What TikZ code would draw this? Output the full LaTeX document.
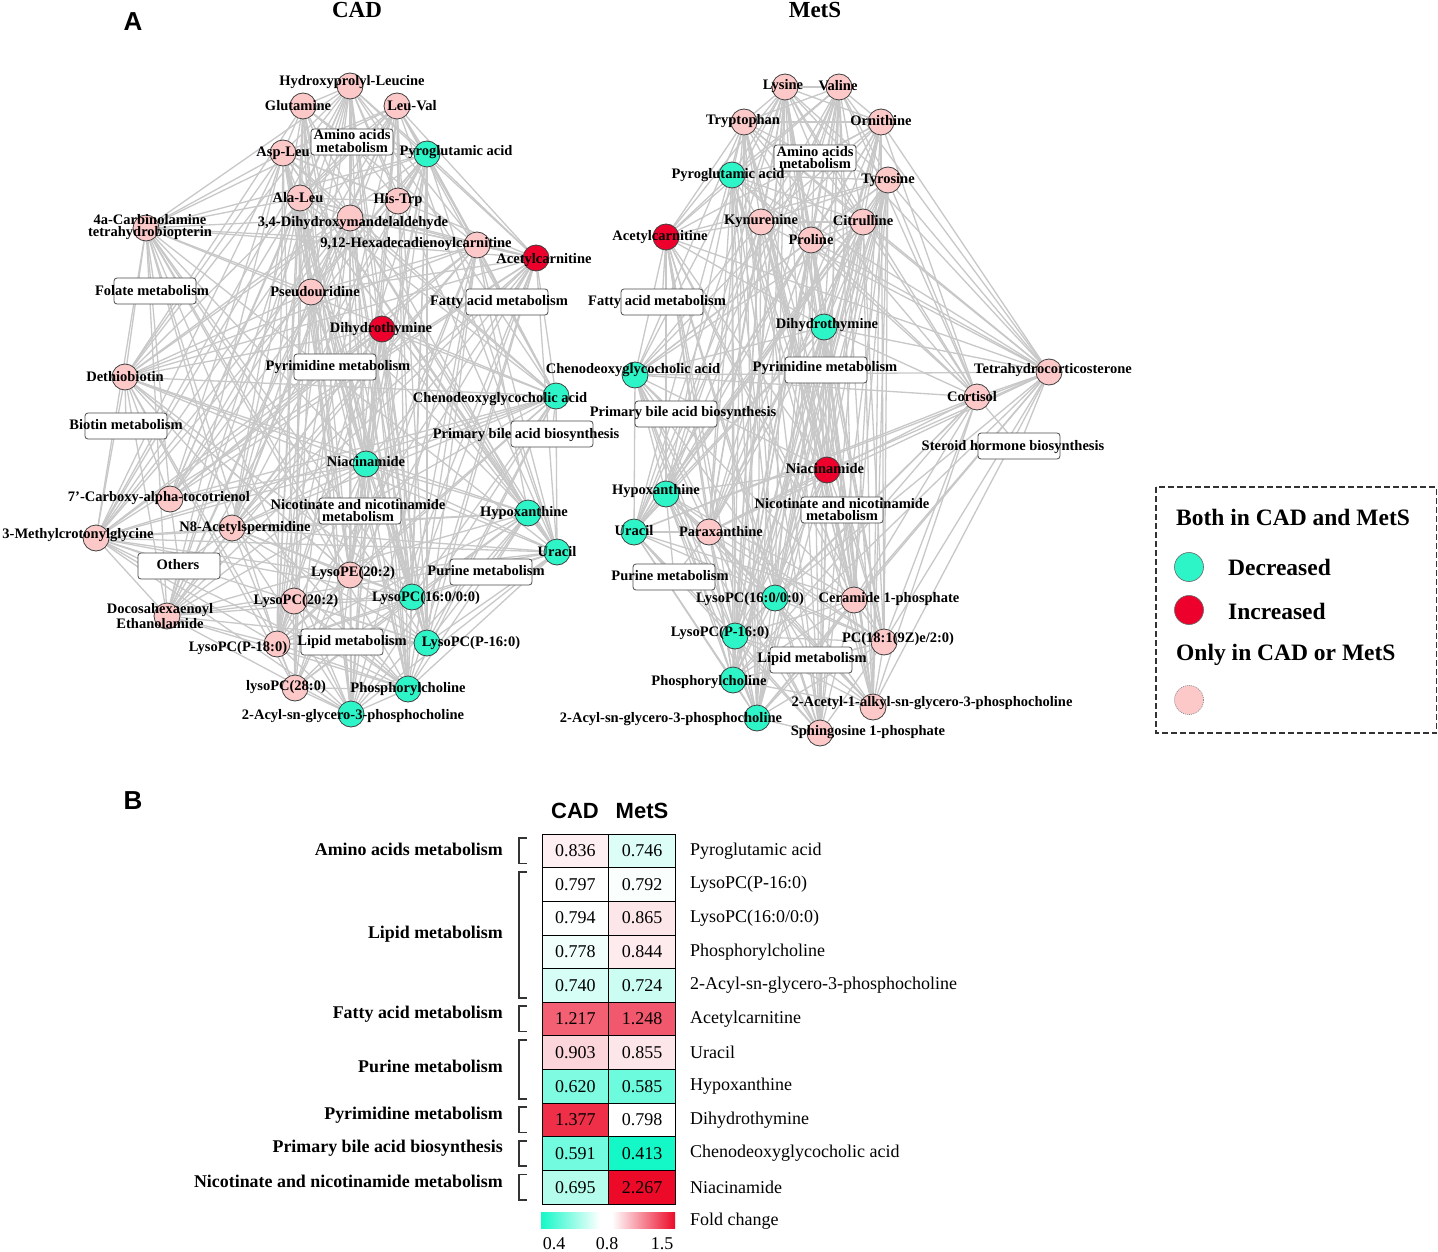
\documentclass[tikz,border=0pt]{standalone}
\usepackage{fontspec}
\setmainfont{Liberation Serif}
\setsansfont{Liberation Sans}
\pgfdeclarelayer{bg}
\pgfdeclarelayer{fg}
\pgfsetlayers{bg,main,fg}
\definecolor{mteal}{RGB}{45,245,200}
\definecolor{mred}{RGB}{238,0,45}
\definecolor{mpink}{RGB}{252,200,200}
\definecolor{egray}{RGB}{200,200,200}
\definecolor{hteal}{RGB}{20,248,200}
\definecolor{hred}{RGB}{236,10,40}
\newcommand\netfont{\fontsize{14.5}{12.5}\selectfont\bfseries}
\newcommand\valfont{\fontsize{18}{20}\selectfont}
\newcommand\grpfont{\fontsize{17.9}{20}\selectfont\bfseries}
\newcommand\legfont{\fontsize{23.5}{26}\selectfont\bfseries}
\newcommand\ttlfont{\fontsize{23}{26}\selectfont\bfseries}
\newcommand\metab[5]{\node[#1] (#2) at (#3) {};\begin{pgfonlayer}{fg}\node[lab] (#2l) at (#4) {#5};\end{pgfonlayer}}
\newcommand\pway[4]{\node[pbox] (#1) at (#2) {};\begin{pgfonlayer}{fg}\node[lab] (#1l) at (#3) {#4};\end{pgfonlayer}}
\tikzset{
  met/.style={circle, draw=black!75, line width=0.8pt, minimum size=26pt, inner sep=0pt},
  pinkn/.style={met, fill=mpink},
  tealn/.style={met, fill=mteal},
  redn/.style={met, fill=mred},
  lab/.style={inner sep=0pt, font=\netfont, align=center},
  pbox/.style={draw=black!70, fill=white, rounded corners=3pt, line width=0.8pt, minimum width=82pt, minimum height=26pt, inner sep=0pt},
  elink/.style={draw=egray, line width=1.3pt},
  hcell/.style={draw=black, line width=0.8pt, minimum width=66.8pt, minimum height=33.6pt, inner sep=0pt, font=\valfont},
  rlab/.style={anchor=west, inner sep=0pt, font=\valfont},
  glab/.style={anchor=east, inner sep=0pt, font=\grpfont},
  brk/.style={draw=black!80, line width=1.4pt},
  legt/.style={anchor=west, inner sep=0pt, font=\legfont},
}
\begin{document}
\begin{tikzpicture}[x=1pt,y=-1pt]
\useasboundingbox (0,0) rectangle (1438,1252);

% titles
\node[font={\fontsize{26}{28}\selectfont\sffamily\bfseries}] (pA) at (133,22) {A};
\node[font={\fontsize{26}{28}\selectfont\sffamily\bfseries}] (pB) at (133,801) {B};
\node[font=\ttlfont] (tcad) at (357,10) {CAD};
\node[font=\ttlfont] (tmets) at (815,10) {MetS};

% ---------------- CAD network ----------------
\metab{pinkn}{c1}{350,86}{352,82}{Hydroxyprolyl-Leucine}
\metab{pinkn}{c2}{303,106}{298,106}{Glutamine}
\metab{pinkn}{c3}{397,106}{412,106}{Leu-Val}
\metab{pinkn}{c4}{283,153}{283,153}{Asp-Leu}
\metab{tealn}{c5}{427,154}{456,152}{Pyroglutamic acid}
\metab{pinkn}{c6}{300,198}{298,198}{Ala-Leu}
\metab{pinkn}{c7}{398,201}{398,200}{His-Trp}
\metab{pinkn}{c8}{350,218}{353,223}{3,4-Dihydroxymandelaldehyde}
\metab{pinkn}{c9}{146,228}{150,227}{4a-Carbinolamine\\tetrahydrobiopterin}
\metab{pinkn}{c10}{477,245}{416,244}{9,12-Hexadecadienoylcarnitine}
\metab{redn}{c11}{536,258}{544,260}{Acetylcarnitine}
\metab{pinkn}{c12}{311,292}{315,292}{Pseudouridine}
\metab{redn}{c13}{382,329}{381,329}{Dihydrothymine}
\metab{pinkn}{c14}{125,377}{125,377}{Dethiobiotin}
\metab{tealn}{c15}{556,396}{500,399}{Chenodeoxyglycocholic acid}
\metab{tealn}{c16}{366,464}{366,462}{Niacinamide}
\metab{pinkn}{c17}{170,499}{159,498}{7'-Carboxy-alpha-tocotrienol}
\metab{tealn}{c18}{528,513}{524,513}{Hypoxanthine}
\metab{pinkn}{c19}{96,538}{78,535}{3-Methylcrotonylglycine}
\metab{pinkn}{c20}{232,528}{245,528}{N8-Acetylspermidine}
\metab{tealn}{c21}{557,552}{557,552}{Uracil}
\metab{pinkn}{c22}{350,575}{353,573}{LysoPE(20:2)}
\metab{pinkn}{c23}{294,601}{296,601}{LysoPC(20:2)}
\metab{tealn}{c24}{412,597}{426,598}{LysoPC(16:0/0:0)}
\metab{pinkn}{c25}{167,616}{160,616}{Docosahexaenoyl\\Ethanolamide}
\metab{pinkn}{c26}{277,644}{238,648}{LysoPC(P-18:0)}
\metab{tealn}{c27}{427,643}{471,643}{LysoPC(P-16:0)}
\metab{pinkn}{c28}{295,688}{286,687}{lysoPC(28:0)}
\metab{tealn}{c29}{408,689}{408,689}{Phosphorylcholine}
\metab{tealn}{c30}{351,714}{353,716}{2-Acyl-sn-glycero-3-phosphocholine}

\pway{ca}{352,142}{352,141}{Amino acids\\metabolism}
\pway{cf}{155,291}{152,291}{Folate metabolism}
\pway{cfa}{507,302}{499,302}{Fatty acid metabolism}
\pway{cpy}{335,367}{338,367}{Pyrimidine metabolism}
\pway{cbi}{126,426}{126,425}{Biotin metabolism}
\pway{cpb}{552,434}{526,435}{Primary bile acid biosynthesis}
\pway{cni}{360,511}{358,510.5}{Nicotinate and nicotinamide\\metabolism}
\pway{cot}{179,566}{178,565}{Others}
\pway{cpu}{491,572}{486,571}{Purine metabolism}
\pway{cli}{342,642}{352,642}{Lipid metabolism}

% ---------------- MetS network ----------------
\metab{pinkn}{m1}{785,87}{783,86}{Lysine}
\metab{pinkn}{m2}{839,87}{838,86}{Valine}
\metab{pinkn}{m3}{744,122}{743,121}{Tryptophan}
\metab{pinkn}{m4}{881,122}{881,121}{Ornithine}
\metab{tealn}{m5}{732,175}{728,175}{Pyroglutamic acid}
\metab{pinkn}{m6}{888,180}{888,180}{Tyrosine}
\metab{pinkn}{m7}{761,222}{761,221}{Kynurenine}
\metab{pinkn}{m8}{863,222}{863,221}{Citrulline}
\metab{pinkn}{m9}{811,240}{811,240}{Proline}
\metab{redn}{m10}{666,237}{660,237}{Acetylcarnitine}
\metab{tealn}{m11}{824,327}{827,325}{Dihydrothymine}
\metab{tealn}{m12}{635,375}{633,370}{Chenodeoxyglycocholic acid}
\metab{pinkn}{m13}{1049,372}{1053,370}{Tetrahydrocorticosterone}
\metab{pinkn}{m14}{977,397}{972,397}{Cortisol}
\metab{redn}{m15}{827,470}{825,469}{Niacinamide}
\metab{tealn}{m16}{666,494}{656,491}{Hypoxanthine}
\metab{tealn}{m17}{634,532}{634,531}{Uracil}
\metab{pinkn}{m18}{709,532}{721,532}{Paraxanthine}
\metab{tealn}{m19}{775,598}{750,599}{LysoPC(16:0/0:0)}
\metab{pinkn}{m20}{854,600}{889,599}{Ceramide 1-phosphate}
\metab{tealn}{m21}{735,636}{720,633}{LysoPC(P-16:0)}
\metab{pinkn}{m22}{884,642}{898,639}{PC(18:1(9Z)e/2:0)}
\metab{tealn}{m23}{733,680}{709,682}{Phosphorylcholine}
\metab{pinkn}{m24}{873,707}{932,703}{2-Acetyl-1-alkyl-sn-glycero-3-phosphocholine}
\metab{tealn}{m25}{757,718}{671,719}{2-Acyl-sn-glycero-3-phosphocholine}
\metab{pinkn}{m26}{820,733}{868,732}{Sphingosine 1-phosphate}

\pway{ma}{815,158}{815,157.5}{Amino acids\\metabolism}
\pway{mfa}{662,302}{657,302}{Fatty acid metabolism}
\pway{mpy}{826,370}{825,368}{Pyrimidine metabolism}
\pway{mpb}{676,414}{683,413}{Primary bile acid biosynthesis}
\pway{mst}{1019,446}{1013,447}{Steroid hormone biosynthesis}
\pway{mni}{842,510}{842,509.5}{Nicotinate and nicotinamide\\metabolism}
\pway{mpu}{674,577}{670,576}{Purine metabolism}
\pway{mli}{811,660}{812,659}{Lipid metabolism}

% ---------------- edges ----------------
\begin{pgfonlayer}{bg}
\fill[white] (0,0) rectangle (1438,1252);
\foreach \i in {1,...,29}{
  \pgfmathtruncatemacro\ii{\i+1}
  \foreach \j in {\ii,...,30}{
    \pgfmathtruncatemacro\r{mod(\i*37+\j*23+\i*\j*11,10)}
    \ifnum\r<8\relax\draw[elink] (c\i) -- (c\j);\fi
  }}
\foreach \i in {1,...,25}{
  \pgfmathtruncatemacro\ii{\i+1}
  \foreach \j in {\ii,...,26}{
    \pgfmathtruncatemacro\r{mod(\i*31+\j*17+\i*\j*13,10)}
    \ifnum\r<8\relax\draw[elink] (m\i) -- (m\j);\fi
  }}
\foreach \a/\b in {c1/ca,c2/ca,c3/ca,c4/ca,c5/ca,c6/ca,c7/ca,c8/ca,c9/cf,c10/cfa,c11/cfa,c12/cpy,c13/cpy,c14/cbi,c15/cpb,c16/cni,c17/cot,c18/cpu,c19/cot,c20/cot,c21/cpu,c22/cli,c23/cli,c24/cli,c25/cot,c26/cli,c27/cli,c28/cli,c29/cli,c30/cli,
  m1/ma,m2/ma,m3/ma,m4/ma,m5/ma,m6/ma,m7/ma,m8/ma,m9/ma,m10/mfa,m11/mpy,m12/mpb,m13/mst,m14/mst,m15/mni,m16/mpu,m17/mpu,m18/mpu,m19/mli,m20/mli,m21/mli,m22/mli,m23/mli,m24/mli,m25/mli,m26/mli}
  \draw[elink] (\a) -- (\b);
\end{pgfonlayer}

% ---------------- legend ----------------
\draw[draw=black!80, line width=1.3pt, dash pattern=on 6pt off 3pt] (1156,487) rectangle (1436.5,733);
\node[legt] (lg1) at (1176,517) {Both in CAD and MetS};
\node[circle, draw=black!60, line width=0.6pt, fill=mteal, minimum size=29pt, inner sep=0pt] (lgc1) at (1189,567) {};
\node[legt] (lg2) at (1228,567) {Decreased};
\node[circle, draw=black!60, line width=0.6pt, fill=mred, minimum size=29pt, inner sep=0pt] (lgc2) at (1189,610) {};
\node[legt] (lg3) at (1228,611) {Increased};
\node[legt] (lg4) at (1176,655) {Only in CAD or MetS};
\node[circle, draw=black!50, line width=0.6pt, dash pattern=on 1pt off 1pt, fill=mpink, minimum size=29pt, inner sep=0pt] (lgc3) at (1189,700) {};

% ---------------- heatmap ----------------
\node[font={\fontsize{22}{24}\selectfont\sffamily\bfseries}] (hcad) at (575,811) {CAD};
\node[font={\fontsize{22}{24}\selectfont\sffamily\bfseries}] (hmets) at (642,811) {MetS};

\node[hcell, fill=hred!6!white] (h1a) at (575.4,850.8) {0.836};
\node[hcell, fill=hteal!15!white] (h1b) at (642.2,850.8) {0.746};
\node[hcell, fill=white] (h2a) at (575.4,884.5) {0.797};
\node[hcell, fill=hteal!2!white] (h2b) at (642.2,884.5) {0.792};
\node[hcell, fill=hteal!1!white] (h3a) at (575.4,918.1) {0.794};
\node[hcell, fill=hred!10!white] (h3b) at (642.2,918.1) {0.865};
\node[hcell, fill=hteal!6!white] (h4a) at (575.4,951.7) {0.778};
\node[hcell, fill=hred!8!white] (h4b) at (642.2,951.7) {0.844};
\node[hcell, fill=hteal!17!white] (h5a) at (575.4,985.4) {0.740};
\node[hcell, fill=hteal!22!white] (h5b) at (642.2,985.4) {0.724};
\node[hcell, fill=hred!65!white] (h6a) at (575.4,1019) {1.217};
\node[hcell, fill=hred!68!white] (h6b) at (642.2,1019) {1.248};
\node[hcell, fill=hred!17!white] (h7a) at (575.4,1052.6) {0.903};
\node[hcell, fill=hred!10!white] (h7b) at (642.2,1052.6) {0.855};
\node[hcell, fill=hteal!55!white] (h8a) at (575.4,1086.3) {0.620};
\node[hcell, fill=hteal!62!white] (h8b) at (642.2,1086.3) {0.585};
\node[hcell, fill=hred!85!white] (h9a) at (575.4,1119.9) {1.377};
\node[hcell, fill=white] (h9b) at (642.2,1119.9) {0.798};
\node[hcell, fill=hteal!60!white] (h10a) at (575.4,1153.5) {0.591};
\node[hcell, fill=hteal!100!white] (h10b) at (642.2,1153.5) {0.413};
\node[hcell, fill=hteal!32!white] (h11a) at (575.4,1187.2) {0.695};
\node[hcell, fill=hred!100!white] (h11b) at (642.2,1187.2) {2.267};

\node[rlab] (r1) at (690,850.8) {Pyroglutamic acid};
\node[rlab] (r2) at (690,884.5) {LysoPC(P-16:0)};
\node[rlab] (r3) at (690,918.1) {LysoPC(16:0/0:0)};
\node[rlab] (r4) at (690,951.7) {Phosphorylcholine};
\node[rlab] (r5) at (690,985.4) {2-Acyl-sn-glycero-3-phosphocholine};
\node[rlab] (r6) at (690,1019) {Acetylcarnitine};
\node[rlab] (r7) at (690,1052.6) {Uracil};
\node[rlab] (r8) at (690,1086.3) {Hypoxanthine};
\node[rlab] (r9) at (690,1119.9) {Dihydrothymine};
\node[rlab] (r10) at (690,1153.5) {Chenodeoxyglycocholic acid};
\node[rlab] (r11) at (690,1187.2) {Niacinamide};

\node[glab] (g1) at (503,849) {Amino acids metabolism};
\node[glab] (g2) at (503,934) {Lipid metabolism};
\node[glab] (g3) at (503,1014) {Fatty acid metabolism};
\node[glab] (g4) at (503,1066) {Purine metabolism};
\node[glab] (g5) at (503,1115) {Pyrimidine metabolism};
\node[glab] (g6) at (503,1148) {Primary bile acid biosynthesis};
\node[glab] (g7) at (503,1181) {Nicotinate and nicotinamide metabolism};

\draw[brk] (527,838) -- (519,838) -- (519,863.5) -- (527,863.5);
\draw[brk] (527,872) -- (519,872) -- (519,998) -- (527,998);
\draw[brk] (527,1006) -- (519,1006) -- (519,1031.5) -- (527,1031.5);
\draw[brk] (527,1040) -- (519,1040) -- (519,1099) -- (527,1099);
\draw[brk] (527,1107) -- (519,1107) -- (519,1132.5) -- (527,1132.5);
\draw[brk] (527,1141) -- (519,1141) -- (519,1166) -- (527,1166);
\draw[brk] (527,1174.5) -- (519,1174.5) -- (519,1200) -- (527,1200);

% colour bar
\shade[left color=hteal, right color=white] (541,1212) rectangle (600,1228);
\fill[white] (600,1212) rectangle (612,1228);
\shade[left color=white, right color=hred] (612,1212) rectangle (675,1228);
\node[rlab] (fc) at (690,1221) {Fold change};
\node[font=\valfont, inner sep=0pt] (t1) at (554,1244) {0.4};
\node[font=\valfont, inner sep=0pt] (t2) at (607,1244) {0.8};
\node[font=\valfont, inner sep=0pt] (t3) at (662,1244) {1.5};
\end{tikzpicture}
\end{document}
